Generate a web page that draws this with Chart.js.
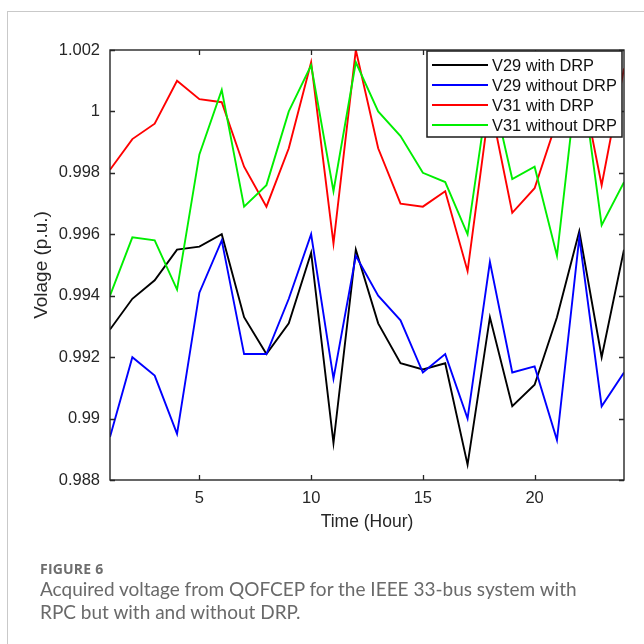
<!DOCTYPE html>
<html>
<head>
<meta charset="utf-8">
<script src="https://cdn.jsdelivr.net/npm/chart.js@4/dist/chart.umd.min.js"></script>
<style>
  html, body { margin: 0; padding: 0; background: #fff; width: 644px; height: 644px; overflow: hidden; }
  #wrap { position: relative; width: 644px; height: 644px; }
  #c { position: absolute; left: 0; top: 0; }
  .frameTop { position: absolute; left: 7px; top: 11px; width: 637px; height: 1px; background: #c9c9c9; }
  .frameLeft { position: absolute; left: 7px; top: 11px; width: 1px; height: 633px; background: #c9c9c9; }
  #cap1 { position: absolute; left: 40px; top: 559px; font-family: "Open Sans", "Lato", sans-serif; font-weight: 700; font-size: 14px; color: #6e6e6e; letter-spacing: 0.2px; }
  #cap2 { position: absolute; left: 40px; top: 577px; font-family: "Lato", "Open Sans", sans-serif; font-size: 19px; line-height: 23px; color: #6a6a6a; white-space: nowrap; }
</style>
</head>
<body>
<div id="wrap">
  <canvas id="c" width="644" height="644"></canvas>
  <div class="frameTop"></div>
  <div class="frameLeft"></div>
  <div id="cap1">FIGURE 6</div>
  <div id="cap2">Acquired voltage from QOFCEP for the IEEE 33-bus system with<br>RPC but with and without DRP.</div>
</div>
<script>
// ---- data ----
const hours = [1,2,3,4,5,6,7,8,9,10,11,12,13,14,15,16,17,18,19,20,21,22,23,24];
const v29WithDRP    = [0.9929,0.9939,0.9945,0.9955,0.9956,0.9960,0.9933,0.9921,0.9931,0.9954,0.9892,0.9955,0.9931,0.9918,0.9916,0.9918,0.9885,0.9933,0.9904,0.9911,0.9933,0.9961,0.9920,0.9955];
const v29WithoutDRP = [0.9894,0.9920,0.9914,0.9895,0.9941,0.9958,0.9921,0.9921,0.9939,0.9960,0.9913,0.9953,0.9940,0.9932,0.9915,0.9921,0.9900,0.9951,0.9915,0.9917,0.9893,0.9959,0.9904,0.9915];
const v31WithDRP    = [0.9981,0.9991,0.9996,1.0010,1.0004,1.0003,0.9982,0.9969,0.9988,1.0016,0.9957,1.0020,0.9988,0.9970,0.9969,0.9974,0.9948,1.0003,0.9967,0.9975,0.9997,1.0013,0.9976,1.0014];
const v31WithoutDRP = [0.9940,0.9959,0.9958,0.9942,0.9986,1.0007,0.9969,0.9976,1.0000,1.0015,0.9974,1.0016,1.0000,0.9992,0.9980,0.9977,0.9960,1.0010,0.9978,0.9982,0.9953,1.0017,0.9963,0.9977];
const seriesLabels = ["V29 with DRP","V29 without DRP","V31 with DRP","V31 without DRP"];
const xTicks = [5,10,15,20];
const yTicks = [0.988,0.990,0.992,0.994,0.996,0.998,1.000,1.002];

const colors = ["#000000","#0000ff","#ff0000","#00ee00"];
const seriesValues = [v29WithDRP, v29WithoutDRP, v31WithDRP, v31WithoutDRP];

const datasets = seriesValues.map((vals, i) => ({
  label: seriesLabels[i],
  data: hours.map((h, j) => ({x: h, y: vals[j]})),
  borderColor: colors[i],
  backgroundColor: colors[i],
  borderWidth: 1.9,
  pointRadius: 0,
  tension: 0,
  fill: false,
  order: 4 - i
}));

const TICKFONT = {family: "'Liberation Sans', Arial, sans-serif", size: 16.5};

const framePlugin = {
  id: 'matlabFrame',
  afterDatasetsDraw(chart) {
    const {ctx, chartArea: a, scales: {x, y}} = chart;
    ctx.save();
    ctx.strokeStyle = '#262626';
    ctx.lineWidth = 1.3;
    ctx.beginPath();
    xTicks.forEach(v => {
      const px = Math.round(x.getPixelForValue(v)) + 0.5;
      ctx.moveTo(px, a.bottom); ctx.lineTo(px, a.bottom - 5);
      ctx.moveTo(px, a.top); ctx.lineTo(px, a.top + 5);
    });
    yTicks.forEach(v => {
      const py = Math.round(y.getPixelForValue(v)) + 0.5;
      ctx.moveTo(a.left, py); ctx.lineTo(a.left + 5, py);
      ctx.moveTo(a.right, py); ctx.lineTo(a.right - 5, py);
    });
    ctx.stroke();
    // legend box
    const lx = a.left + 317, ly = a.top + 1, lw = a.right - 2 - lx, lh = 86;
    ctx.fillStyle = '#fff';
    ctx.fillRect(lx, ly, lw, lh);
    ctx.lineWidth = 1.5;
    ctx.strokeStyle = '#1a1a1a';
    ctx.strokeRect(lx, ly, lw, lh);
    ctx.font = "16.4px 'Liberation Sans', Arial, sans-serif";
    ctx.textBaseline = 'middle';
    ctx.textAlign = 'left';
    chart.data.datasets.forEach((ds, i) => {
      const ry = ly + 14 + i * 20;
      ctx.strokeStyle = ds.borderColor;
      ctx.lineWidth = 1.9;
      ctx.beginPath();
      ctx.moveTo(lx + 5, ry); ctx.lineTo(lx + 61, ry);
      ctx.stroke();
      ctx.fillStyle = '#111';
      ctx.fillText(ds.label, lx + 65, ry + 1);
    });
    // axes box
    ctx.lineWidth = 1.4;
    ctx.strokeStyle = '#262626';
    ctx.strokeRect(a.left, a.top, a.right - a.left, a.bottom - a.top);
    ctx.restore();
  }
};

new Chart(document.getElementById('c'), {
  type: 'line',
  data: { datasets },
  options: {
    responsive: false,
    animation: false,
    events: [],
    layout: { padding: { left: 0, top: 50, right: 20, bottom: 104 } },
    plugins: { legend: { display: false }, tooltip: { enabled: false } },
    scales: {
      x: {
        type: 'linear', min: 1, max: 24,
        afterBuildTicks: s => { s.ticks = xTicks.map(v => ({value: v})); },
        afterFit: s => { s.height = 60; },
        grid: { display: false, drawTicks: false },
        border: { display: false },
        ticks: { font: TICKFONT, color: '#262626', padding: 9, maxRotation: 0, autoSkip: false },
        title: { display: true, text: 'Time (Hour)', font: {family: "'Liberation Sans', Arial, sans-serif", size: 17.5}, color: '#262626', padding: {top: 0, bottom: 7.5} }
      },
      y: {
        type: 'linear', min: 0.988, max: 1.002,
        afterBuildTicks: s => { s.ticks = yTicks.map(v => ({value: v})); },
        afterFit: s => { s.width = 110; },
        grid: { display: false, drawTicks: false },
        border: { display: false },
        ticks: { font: TICKFONT, color: '#262626', padding: 10, callback: v => String(parseFloat(Number(v).toFixed(3))) },
        title: { display: true, text: 'Volage (p.u.)', font: {family: "'Liberation Sans', Arial, sans-serif", size: 19}, color: '#262626', padding: {top: 30, bottom: 0} }
      }
    }
  },
  plugins: [framePlugin]
});
</script>
</body>
</html>
